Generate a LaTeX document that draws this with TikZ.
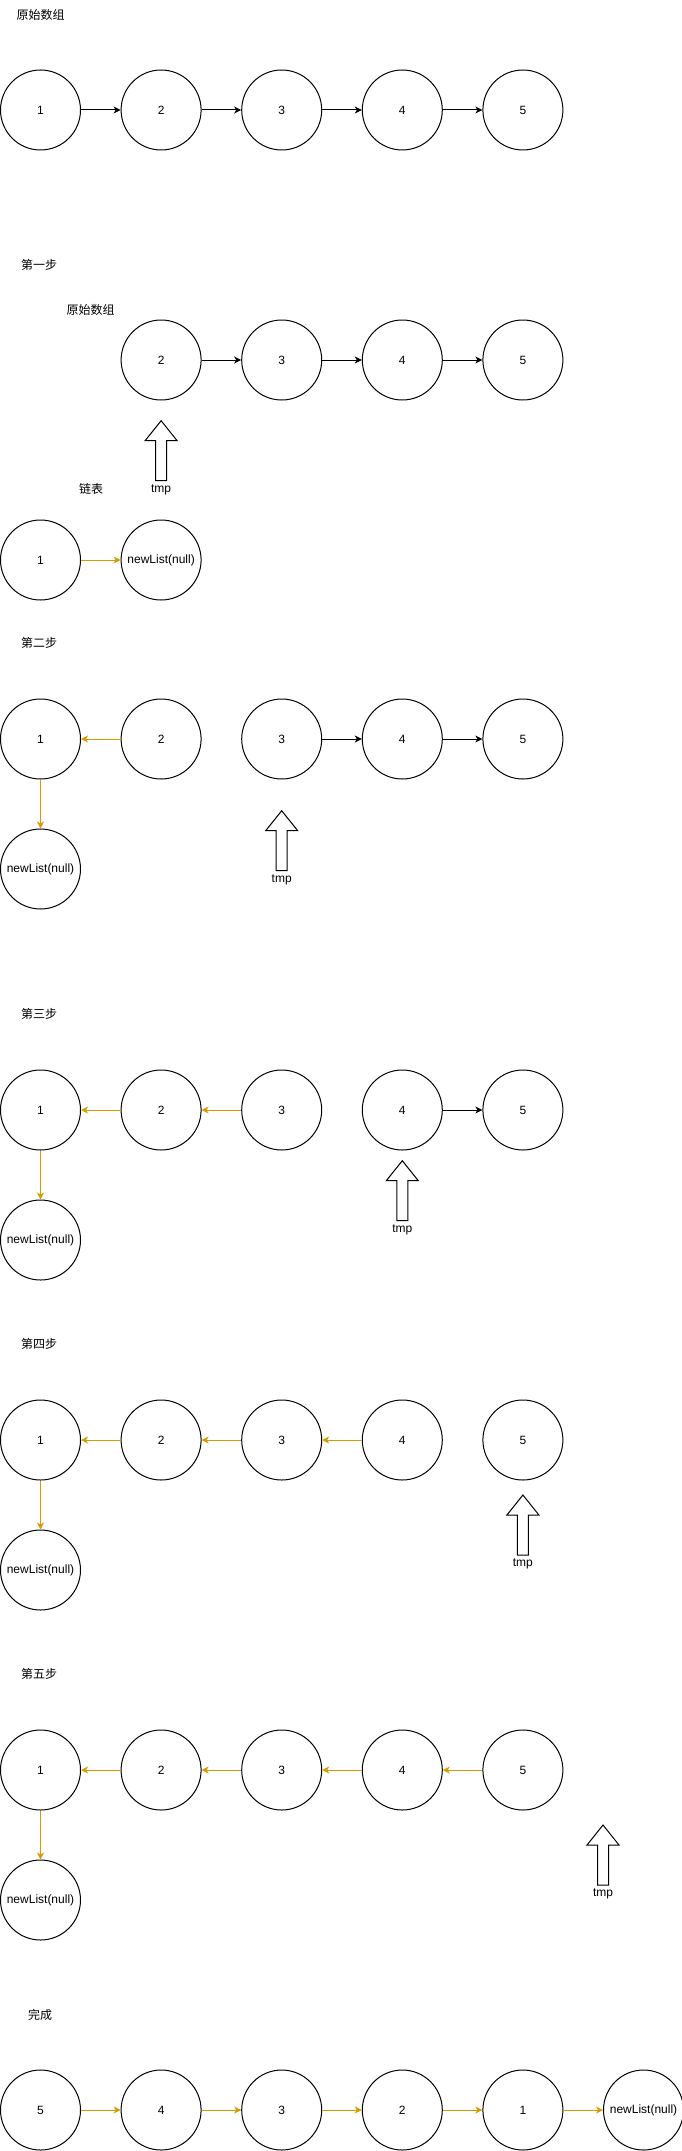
\documentclass[tikz,border=0pt]{standalone}
\usepackage{fontspec}
\setmainfont{Liberation Sans}
\newfontfamily\cjk{Noto Sans CJK SC}
\usetikzlibrary{arrows.meta}
\definecolor{orgc}{HTML}{D79B00}
\tikzset{
  circ/.style={circle, draw, minimum size=80pt, inner sep=0pt, line width=1pt, font=\fontsize{12}{14}\selectfont},
  lbl/.style={inner sep=0pt, font=\cjk\fontsize{12}{14}\selectfont},
  tlbl/.style={inner sep=0pt, font=\fontsize{12}{14}\selectfont},
  blk/.style={-{Stealth[length=7pt,width=7pt,inset=2pt]}, line width=1pt},
  org/.style={-{Stealth[length=7pt,width=7pt,inset=2pt]}, line width=1pt, draw=orgc, color=orgc},
  tmparrow/.pic={
    \draw[line width=1pt] (0,0) -- (16,20) -- (5.5,20) -- (5.5,60) -- (-5.5,60) -- (-5.5,20) -- (-16,20) -- cycle;
    \node[tlbl] (-lab) at (0,69) {tmp};
  }
}
\begin{document}
\begin{tikzpicture}[x=1pt,y=-1pt]
\useasboundingbox (0,0) rectangle (682,2151);
% ---------- original array
\node[lbl] (t0) at (40.6,15) {原始数组};
\node[circ] (a1) at (40.5,110) {1};
\node[circ] (a2) at (161.1,110) {2};
\node[circ] (a3) at (281.7,110) {3};
\node[circ] (a4) at (402.3,110) {4};
\node[circ] (a5) at (522.9,110) {5};
\draw[blk] (a1) -- (a2);
\draw[blk] (a2) -- (a3);
\draw[blk] (a3) -- (a4);
\draw[blk] (a4) -- (a5);
% ---------- step 1
\node[lbl] (t1) at (39,265) {第一步};
\node[lbl] (t1b) at (90.5,310) {原始数组};
\node[circ] (b2) at (161.1,360) {2};
\node[circ] (b3) at (281.7,360) {3};
\node[circ] (b4) at (402.3,360) {4};
\node[circ] (b5) at (522.9,360) {5};
\draw[blk] (b2) -- (b3);
\draw[blk] (b3) -- (b4);
\draw[blk] (b4) -- (b5);
\pic (p1) at (161.1,420.7) {tmparrow};
\node[lbl] (t1c) at (91,489) {链表};
\node[circ] (b1) at (40.5,560) {1};
\node[circ] (bn) at (161.1,560) {newList(null)};
\draw[org] (b1) -- (bn);
% ---------- step 2
\node[lbl] (t2) at (39,643) {第二步};
\node[circ] (c1) at (40.5,739) {1};
\node[circ] (c2) at (161.1,739) {2};
\node[circ] (c3) at (281.7,739) {3};
\node[circ] (c4) at (402.3,739) {4};
\node[circ] (c5) at (522.9,739) {5};
\node[circ] (cn) at (40.5,869) {newList(null)};
\draw[org] (c2) -- (c1);
\draw[org] (c1) -- (cn);
\draw[blk] (c3) -- (c4);
\draw[blk] (c4) -- (c5);
\pic (p2) at (281.7,810.7) {tmparrow};
% ---------- step 3
\node[lbl] (t3) at (39,1014) {第三步};
\node[circ] (d1) at (40.5,1110) {1};
\node[circ] (d2) at (161.1,1110) {2};
\node[circ] (d3) at (281.7,1110) {3};
\node[circ] (d4) at (402.3,1110) {4};
\node[circ] (d5) at (522.9,1110) {5};
\node[circ] (dn) at (40.5,1240) {newList(null)};
\draw[org] (d2) -- (d1);
\draw[org] (d3) -- (d2);
\draw[org] (d1) -- (dn);
\draw[blk] (d4) -- (d5);
\pic (p3) at (402.3,1160.7) {tmparrow};
% ---------- step 4
\node[lbl] (t4) at (39,1344) {第四步};
\node[circ] (e1) at (40.5,1440) {1};
\node[circ] (e2) at (161.1,1440) {2};
\node[circ] (e3) at (281.7,1440) {3};
\node[circ] (e4) at (402.3,1440) {4};
\node[circ] (e5) at (522.9,1440) {5};
\node[circ] (en) at (40.5,1570) {newList(null)};
\draw[org] (e2) -- (e1);
\draw[org] (e3) -- (e2);
\draw[org] (e4) -- (e3);
\draw[org] (e1) -- (en);
\pic (p4) at (522.9,1495) {tmparrow};
% ---------- step 5
\node[lbl] (t5) at (39,1674) {第五步};
\node[circ] (f1) at (40.5,1770) {1};
\node[circ] (f2) at (161.1,1770) {2};
\node[circ] (f3) at (281.7,1770) {3};
\node[circ] (f4) at (402.3,1770) {4};
\node[circ] (f5) at (522.9,1770) {5};
\node[circ] (fn) at (40.5,1900) {newList(null)};
\draw[org] (f2) -- (f1);
\draw[org] (f3) -- (f2);
\draw[org] (f4) -- (f3);
\draw[org] (f5) -- (f4);
\draw[org] (f1) -- (fn);
\pic (p5) at (603,1825) {tmparrow};
% ---------- done
\node[lbl] (t6) at (40,2015) {完成};
\node[circ] (g5) at (40.5,2110) {5};
\node[circ] (g4) at (161.1,2110) {4};
\node[circ] (g3) at (281.7,2110) {3};
\node[circ] (g2) at (402.3,2110) {2};
\node[circ] (g1) at (522.9,2110) {1};
\node[circ] (gn) at (643.5,2110) {newList(null)};
\draw[org] (g5) -- (g4);
\draw[org] (g4) -- (g3);
\draw[org] (g3) -- (g2);
\draw[org] (g2) -- (g1);
\draw[org] (g1) -- (gn);
\end{tikzpicture}
\end{document}
